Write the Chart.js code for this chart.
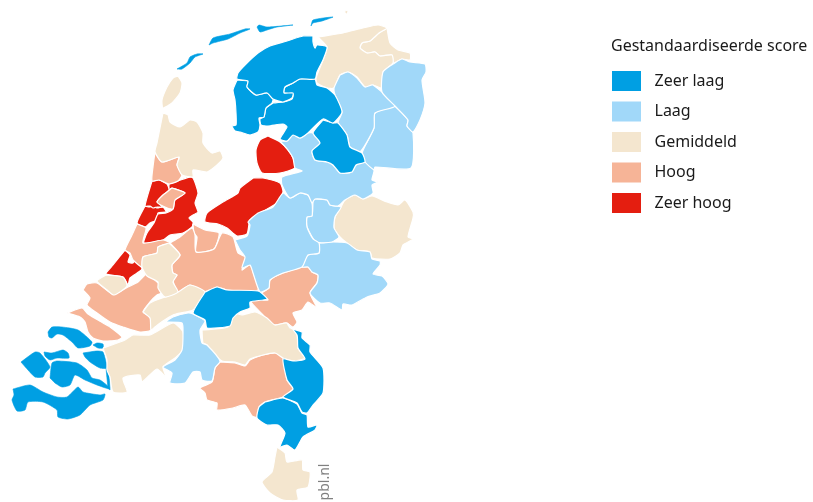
<!DOCTYPE html>
<html><head><meta charset="utf-8">
<style>html,body{margin:0;padding:0;background:#fff;overflow:hidden}canvas{display:block}</style>
<script src="https://cdn.jsdelivr.net/npm/chart.js@4"></script></head>
<body><canvas id="c" width="813" height="502"></canvas>
<script>
const legendTitle = "Gestandaardiseerde score";
const classLabels = ["Zeer laag","Laag","Gemiddeld","Hoog","Zeer hoog"];
const classColors = ["#009fe3","#a1d8f9","#f4e6cf","#f6b497","#e41e10"];
const sourceLabel = "pbl.nl";

// Region outlines, in map units
const zeerLaag = [
[[313,36],[303,36],[287,41],[270,46],[258,53],[245,65],[238,73],[237,79],[248,81],[247,87],[256,95],[267,93],[273,99],[283,102],[292,98],[293,93],[284,93],[285,87],[293,83],[300,79],[315,79],[317,72],[323,60],[327,47],[317,45],[315,48],[313,42]],
[[237,80],[233,90],[235,100],[236,113],[236,125],[232,126],[235,131],[240,132],[250,135],[258,132],[260,125],[259,118],[264,117],[266,108],[272,103],[273,99],[267,93],[256,95],[247,87],[248,81]],
[[273,103],[266,108],[264,117],[260,119],[261,125],[268,126],[283,124],[287,127],[280,139],[287,141],[293,135],[300,138],[308,133],[323,119],[333,123],[342,112],[335,95],[327,88],[317,85],[315,79],[300,79],[293,83],[285,87],[284,93],[293,94],[292,99],[283,102]],
[[323,120],[313,133],[320,143],[312,151],[315,160],[327,162],[333,165],[340,173],[352,172],[356,165],[365,162],[362,153],[350,147],[347,135],[338,123],[333,123]],
[[205,292],[217,287],[227,290],[258,291],[267,299],[250,302],[250,308],[240,312],[233,318],[230,326],[207,328],[205,320],[193,313]],
[[287,323],[290,328],[302,332],[302,338],[310,345],[310,352],[323,368],[323,393],[313,405],[307,413],[302,412],[297,403],[283,397],[293,389],[287,380],[283,359],[293,361],[305,359],[298,348],[297,335]],
[[265,402],[283,398],[297,404],[302,413],[307,415],[308,427],[317,425],[315,430],[303,437],[295,450],[287,445],[280,447],[285,433],[278,425],[267,425],[257,418],[259,407]]
];
const zeerLaagIslands = [
[[177,69],[187,63],[190,57],[197,54],[203,54],[195,57],[190,63],[182,69]],
[[209,45],[213,38],[230,34],[245,29],[250,29],[240,33],[228,39],[213,43]],
[[257,27],[259,25],[267,27],[293,25],[277,27],[267,30],[260,32]],
[[311,26],[313,20],[333,17],[322,21],[313,23]],
[[48,332],[52,327],[62,327],[78,330],[92,342],[90,346],[78,348],[72,342],[63,335],[57,334],[52,338],[49,337]],
[[93,345],[97,343],[103,344],[103,348],[98,348]],
[[83,353],[97,351],[103,352],[106,362],[107,368],[100,368],[90,362],[85,357]],
[[44,352],[52,353],[63,350],[68,353],[69,358],[57,358],[50,360],[45,356]],
[[21,362],[35,352],[40,353],[50,367],[45,373],[43,377],[35,377],[28,370]],
[[50,378],[52,363],[57,361],[77,363],[87,370],[92,378],[100,380],[109,387],[109,389],[97,385],[85,380],[75,375],[70,385],[62,387],[55,383],[52,380]],
[[106,368],[109,375],[110,390],[108,387]],
[[13,389],[30,385],[43,392],[57,397],[67,397],[78,387],[83,392],[100,395],[105,394],[103,400],[90,405],[80,415],[68,419],[58,417],[57,410],[43,402],[28,402],[25,410],[17,411],[12,400],[14,395]]
];
const laag = [
[[393,64],[402,59],[410,62],[425,64],[426,72],[422,80],[425,103],[420,120],[413,132],[407,126],[408,120],[395,106],[382,92],[383,72]],
[[340,75],[348,72],[357,78],[365,87],[373,85],[395,106],[375,113],[374,128],[360,152],[350,147],[347,135],[338,123],[342,112],[335,95],[334,88]],
[[395,106],[408,120],[407,126],[413,133],[411,168],[375,167],[374,170],[365,162],[362,153],[374,128],[375,113]],
[[280,141],[287,141],[293,135],[300,138],[308,133],[313,133],[320,143],[312,151],[315,160],[327,162],[333,165],[340,173],[352,172],[356,165],[365,162],[374,170],[372,180],[378,182],[372,185],[373,193],[363,199],[355,195],[345,200],[338,206],[330,205],[327,200],[315,199],[312,203],[308,195],[300,193],[290,198],[282,185],[282,177],[302,171],[295,168],[293,158],[288,150]],
[[235,240],[247,236],[250,225],[248,222],[258,213],[273,207],[283,193],[290,198],[300,193],[308,195],[312,203],[312,216],[307,217],[307,227],[313,239],[319,243],[319,253],[308,255],[302,267],[283,273],[270,280],[269,288],[260,292],[253,273],[250,265],[242,268],[245,257],[240,250]],
[[313,201],[315,199],[327,200],[330,205],[341,207],[335,217],[334,228],[339,237],[332,242],[316,242],[307,227],[307,217],[312,216]],
[[319,243],[332,242],[347,243],[357,250],[370,252],[372,259],[380,261],[380,265],[373,274],[382,276],[388,284],[380,293],[367,297],[352,305],[343,304],[342,310],[330,303],[320,303],[310,293],[317,283],[318,275],[312,272],[308,267],[302,267],[308,255],[319,253]],
[[165,322],[173,317],[188,313],[193,314],[205,321],[200,330],[202,343],[207,345],[220,361],[215,368],[212,381],[202,380],[200,372],[193,372],[185,383],[170,383],[172,373],[163,367],[175,360],[182,350],[183,333],[182,323]]
];
const gemiddeld = [
[[318,37],[343,33],[363,28],[378,25],[387,28],[379,33],[370,41],[362,43],[360,48],[367,53],[375,52],[380,56],[392,55],[393,63],[383,72],[382,88],[373,85],[365,87],[357,77],[348,72],[340,75],[334,88],[327,88],[317,83],[316,78],[323,60],[327,47]],
[[387,28],[390,43],[398,50],[410,53],[410,60],[402,59],[393,63],[392,55],[380,56],[375,52],[367,53],[360,48],[362,43],[370,41],[379,33]],
[[341,207],[345,200],[355,195],[363,199],[372,196],[387,202],[398,205],[405,200],[413,212],[413,218],[408,237],[413,239],[403,245],[400,253],[390,259],[372,258],[370,252],[357,250],[347,243],[340,237],[334,228],[335,217]],
[[163,113],[168,115],[170,122],[180,127],[190,120],[197,122],[203,133],[203,143],[212,153],[220,151],[223,158],[217,165],[207,172],[193,170],[193,177],[182,175],[177,165],[179,157],[162,162],[155,152],[157,143]],
[[178,76],[182,83],[180,93],[172,103],[163,108],[162,100],[167,87],[173,78]],
[[345,10],[348,11],[347,14],[345,13]],
[[106,275],[123,277],[127,286],[114,295],[107,290],[97,281]],
[[169,243],[180,255],[172,265],[173,273],[177,275],[173,282],[178,292],[165,297],[158,288],[158,282],[147,276],[142,267],[143,257],[157,253],[158,247]],
[[143,312],[150,303],[165,297],[178,292],[190,285],[205,292],[193,310],[180,313],[173,315],[163,321],[155,327],[151,330],[150,318]],
[[202,330],[228,327],[233,313],[242,315],[255,312],[267,318],[275,325],[287,323],[297,335],[298,348],[305,358],[293,361],[283,358],[275,353],[263,355],[250,359],[245,365],[235,362],[222,361],[213,353],[207,345],[203,343]],
[[103,348],[125,340],[133,335],[150,335],[173,323],[183,332],[183,350],[175,358],[163,367],[166,377],[157,369],[142,382],[140,375],[123,378],[127,392],[113,392],[110,377],[107,370],[107,360]],
[[277,447],[285,453],[287,462],[302,460],[303,470],[310,472],[308,487],[297,490],[298,500],[283,500],[270,493],[262,482],[272,472],[275,457]]
];
const hoog = [
[[302,267],[308,267],[312,272],[318,275],[317,283],[310,293],[317,308],[308,302],[302,310],[293,313],[297,322],[293,327],[286,323],[273,325],[263,315],[250,300],[268,300],[262,293],[269,288],[270,280],[283,273]],
[[155,152],[162,162],[179,157],[177,165],[182,175],[178,181],[169,184],[159,180],[152,181],[153,167]],
[[172,188],[185,193],[175,200],[173,209],[165,207],[157,202],[163,195]],
[[137,224],[146,228],[143,243],[163,240],[170,243],[158,247],[157,253],[143,257],[142,267],[133,260],[130,253],[125,250],[132,235]],
[[83,290],[87,284],[97,283],[113,294],[128,287],[138,282],[149,272],[155,280],[163,288],[162,293],[157,295],[150,302],[143,312],[150,317],[151,330],[140,332],[123,327],[110,322],[97,313],[87,305],[90,298]],
[[67,313],[82,308],[88,314],[103,323],[110,327],[122,337],[118,340],[103,341],[93,338],[88,332],[85,322],[80,317]],
[[170,243],[180,255],[172,265],[173,273],[177,275],[173,280],[178,292],[190,285],[205,292],[217,287],[227,290],[258,290],[255,278],[250,265],[242,270],[247,258],[238,253],[233,237],[222,233],[214,249],[196,252],[195,235],[192,228],[180,237]],
[[193,224],[205,230],[219,233],[214,249],[196,252],[197,237],[194,233]],
[[220,362],[235,363],[245,366],[250,360],[263,355],[276,353],[283,358],[287,380],[293,389],[283,397],[265,402],[259,407],[257,417],[252,416],[245,405],[233,408],[217,410],[217,403],[207,400],[205,393],[200,388],[212,382],[215,368]]
];
const zeerHoog = [
[[268,136],[260,140],[256,150],[257,163],[262,173],[280,173],[295,168],[293,158],[288,150],[280,142]],
[[253,178],[240,188],[238,193],[223,202],[207,213],[205,222],[218,224],[227,228],[237,236],[247,234],[250,220],[260,213],[277,203],[283,192],[280,183],[263,178]],
[[152,181],[159,180],[167,184],[169,190],[162,196],[157,202],[163,207],[157,207],[153,208],[150,206],[145,206]],
[[169,184],[178,181],[192,177],[198,193],[195,203],[198,212],[193,215],[189,218],[193,222],[192,227],[183,233],[170,235],[163,240],[144,243],[147,233],[154,223],[158,214],[166,213],[173,209],[175,200],[185,193],[172,188],[169,190]],
[[145,206],[150,207],[153,205],[157,208],[163,207],[166,212],[158,213],[157,220],[150,223],[145,227],[137,223]],
[[125,250],[130,255],[128,262],[133,263],[135,260],[142,269],[130,278],[128,285],[123,277],[106,274],[113,265]]
];
const classRegions = [zeerLaag, laag, gemiddeld, hoog, zeerHoog];
const classIslands = [zeerLaagIslands, [], [], [], []];

const datasets = [];
function addPolygon(poly, k, edge, width) {
  const pts = poly.map(p => ({x:p[0], y:p[1]}));
  pts.push({x:poly[0][0], y:poly[0][1]});
  datasets.push({
    label: classLabels[k], data: pts, showLine: true, fill: 'shape',
    backgroundColor: classColors[k], borderColor: edge, borderWidth: width,
    pointRadius: 0, pointHoverRadius: 0, tension: 0.2
  });
}
classRegions.forEach((regions, k) => regions.forEach(poly => addPolygon(poly, k, '#ffffff', 1.2)));
classIslands.forEach((regions, k) => regions.forEach(poly => addPolygon(poly, k, classColors[k], 0.6)));

const FONT = '"Noto Sans", sans-serif';
const mapLegend = {
  id: 'mapLegend',
  afterDraw(chart) {
    const c = chart.ctx;
    c.save();
    c.textBaseline = 'middle';
    c.textAlign = 'left';
    c.fillStyle = '#1a1a1a';
    c.font = '16px ' + FONT;
    c.fillText(legendTitle, 611, 46);
    classLabels.forEach((lab, i) => {
      const y = 71 + i * 30.5;
      c.fillStyle = classColors[i];
      c.fillRect(612, y, 29, 20);
      c.fillStyle = '#1a1a1a';
      c.fillText(lab, 654.5, y + 10);
    });
    c.translate(325, 482);
    c.rotate(-Math.PI / 2);
    c.textAlign = 'center';
    c.fillStyle = '#808080';
    c.font = '14px ' + FONT;
    c.fillText(sourceLabel, 0, 0);
    c.restore();
  }
};

new Chart(document.getElementById('c'), {
  type: 'scatter',
  data: { datasets },
  plugins: [mapLegend],
  options: {
    responsive: false, animation: false,
    layout: { padding: 0 },
    plugins: { legend: {display:false}, tooltip: {enabled:false}, title:{display:false} },
    scales: {
      x: { type:'linear', min:0, max:813, display:false },
      y: { type:'linear', min:0, max:502, reverse:true, display:false }
    }
  }
});
</script></body></html>
